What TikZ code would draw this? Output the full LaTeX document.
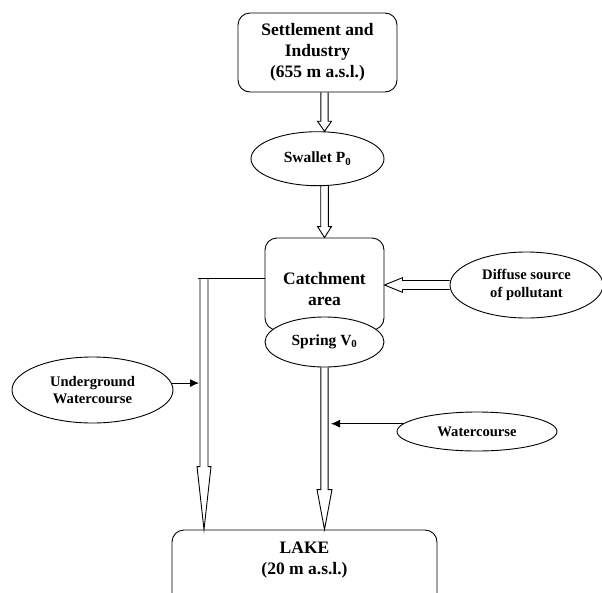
\documentclass[tikz,border=0pt]{standalone}
\usepackage{fontspec}
\setmainfont{Liberation Serif}
\usetikzlibrary{shapes.geometric,calc,arrows.meta}
\newcommand{\hollowdown}[5]{%
  \draw[conn] let \p1=(#1), \p2=(#2) in
  (\x1-#3pt,\y1) -- (\x1-#3pt,\y2+#5pt) -- (\x1-#4pt,\y2+#5pt) -- (\x1,\y2)
  -- (\x1+#4pt,\y2+#5pt) -- (\x1+#3pt,\y2+#5pt) -- (\x1+#3pt,\y1);}
\newcommand{\hollowleft}[5]{%
  \draw[conn] let \p1=(#1), \p2=(#2) in
  (\x1,\y1+#3pt) -- (\x2+#5pt,\y1+#3pt) -- (\x2+#5pt,\y1+#4pt) -- (\x2,\y1)
  -- (\x2+#5pt,\y1-#4pt) -- (\x2+#5pt,\y1-#3pt) -- (\x1,\y1-#3pt);}
\begin{document}
\begin{tikzpicture}[x=1pt,y=-1pt,line width=0.9pt,
  conn/.style={line width=0.9pt,line join=miter},
  box/.style={draw,rounded corners=12pt,inner sep=0pt},
  oval/.style={draw,ellipse,inner sep=0pt,fill=white},
  big/.style={font=\bfseries\fontsize{17.5}{21}\selectfont,align=center},
  mid/.style={font=\bfseries\fontsize{15.5}{18}\selectfont},
  small/.style={font=\bfseries\fontsize{14.6}{17.5}\selectfont,align=center}]
\useasboundingbox (0,0) rectangle (602,592);

\node[box,big,minimum width=159pt,minimum height=79pt] (top) at (317.5,52.5) {Settlement and\\Industry\\(655 m a.s.l.)};
\node[oval,mid,minimum width=133pt,minimum height=54pt] (swallet) at (317.5,158.7) {Swallet P\textsubscript{0}};
\node[box,minimum width=119pt,minimum height=92pt] (catch) at (324.5,284) {};
\node[big] (catchtxt) at (324.5,289) {Catchment\\area};
\node[oval,mid,minimum width=119pt,minimum height=50pt] (spring) at (324.5,342) {Spring V\textsubscript{0}};
\node[oval,small,minimum width=153pt,minimum height=66pt] (diffuse) at (526.5,285) {Diffuse source\\of pollutant};
\node[oval,small,minimum width=161pt,minimum height=66pt] (under) at (92.5,390) {Underground\\Watercourse};
\node[oval,small,minimum width=160pt,minimum height=39pt] (water) at (477,431.5) {Watercourse};
\node[box,minimum width=265pt,minimum height=90pt] (lake) at (304.5,575) {};
\node[big] (laketxt) at (304.5,560) {LAKE\\(20 m a.s.l.)};

\coordinate (ax) at (324.5,0);
\coordinate (lj) at (198,278);
\coordinate (ls) at (204,278);
\coordinate (lsl) at (199,278);
\coordinate (rsr) at (331,0);

\hollowdown{top.south -| ax}{swallet.north -| ax}{3.6}{7}{10}
\hollowdown{swallet.south -| ax}{catch.north -| ax}{3.8}{7}{11}
\hollowdown{spring.south}{lake.north -| spring.south}{3.6}{7.5}{40}
\draw[conn] (catch.west |- lj) -- (lj);
\hollowdown{ls}{ls |- lake.north}{4}{7}{63}
\hollowleft{diffuse.west}{catch.east |- diffuse.west}{4.5}{7.3}{18}
\draw[conn,-{Latex[length=9pt,width=8pt]}] (under.5) -- (under.5 -| lsl);
\draw[conn,-{Latex[length=9pt,width=8pt]}] (water.174) -- (water.174 -| rsr);
\end{tikzpicture}
\end{document}
